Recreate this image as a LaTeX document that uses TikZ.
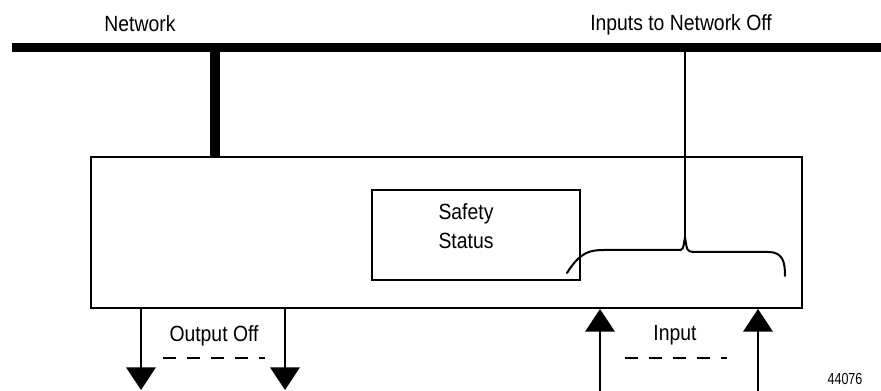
\documentclass[tikz,border=0pt]{standalone}
\usepackage{fontspec}
\setmainfont{Liberation Sans}
\newfontfamily\narrowfont[FakeStretch=0.88]{Liberation Sans}
\newfontfamily\numfont[FakeStretch=0.78]{Liberation Sans}
\usetikzlibrary{arrows.meta, positioning, calc}

\begin{document}
\begin{tikzpicture}[
  x=0.75pt, y=-0.75pt,
  box/.style = {draw, line width=1.5pt, inner sep=0pt},
  arrow/.style = {line width=2pt, -{Triangle[width=22pt, length=17pt]}},
  bus/.style = {line width=6.75pt},
  stem/.style = {line width=7.5pt},
  dashline/.style = {line width=1.1pt, dash pattern=on 9.75pt off 8.25pt},
  label/.style = {font=\narrowfont\fontsize{16.5}{19}\selectfont, inner sep=0pt}
]
  \useasboundingbox (0,0) rectangle (881,391);

  % Network bus
  \coordinate (busL) at (12,48);
  \coordinate (busR) at (881,48);
  \draw[bus] (busL) -- (busR);
  \node[label, anchor=base] (net) at (140,32) {Network};
  \node[label, anchor=base] (netoff) at (681,31) {Inputs to Network Off};

  % Module and safety status
  \node[box, minimum width=533.25pt, minimum height=113.25pt] (module) at (446.5,232.5) {};
  \node[box, minimum width=156pt, minimum height=67.5pt] (safety) at (475.5,235) {};
  \node[label, align=center, font=\narrowfont\fontsize{16.5}{21.75}\selectfont] (safetytxt) at (466,226.5) {Safety\\Status};

  % Stem to bus
  \coordinate (tap) at (215,48);
  \draw[stem] (tap) -- (tap |- module.north);

  % Brace for inputs
  \coordinate (bracetip) at (685,237);
  \coordinate (offtap) at (685,52);
  \draw[line width=1.5pt] (offtap) -- (bracetip);
  \draw[line width=1.5pt, line cap=round]
    (567,273) .. controls (580,252) and (590,250) .. (604,250) -- (678,250)
    .. controls (683,250) .. (bracetip) .. controls (687,251) .. (693,252)
    -- (768,252) .. controls (783,252) and (785,262) .. (785,276);

  % Outputs
  \coordinate (out1) at (141,390);
  \coordinate (out2) at (285,390);
  \draw[arrow] (module.south -| out1) -- (out1);
  \draw[arrow] (module.south -| out2) -- (out2);
  \node[label, anchor=base] (outtxt) at (214,341) {Output Off};
  \draw[dashline] (163,358) -- (265,358);

  % Inputs
  \coordinate (in1) at (600,391);
  \coordinate (in2) at (758,391);
  \draw[arrow] (in1) -- (module.south -| in1);
  \draw[arrow] (in2) -- (module.south -| in2);
  \node[label, anchor=base] (intxt) at (675,340) {Input};
  \draw[dashline] (625,358) -- (727,358);

  \node[anchor=base, inner sep=0pt, font=\numfont\fontsize{12}{14}\selectfont] (fignum) at (845,384) {44076};

\end{tikzpicture}
\end{document}
